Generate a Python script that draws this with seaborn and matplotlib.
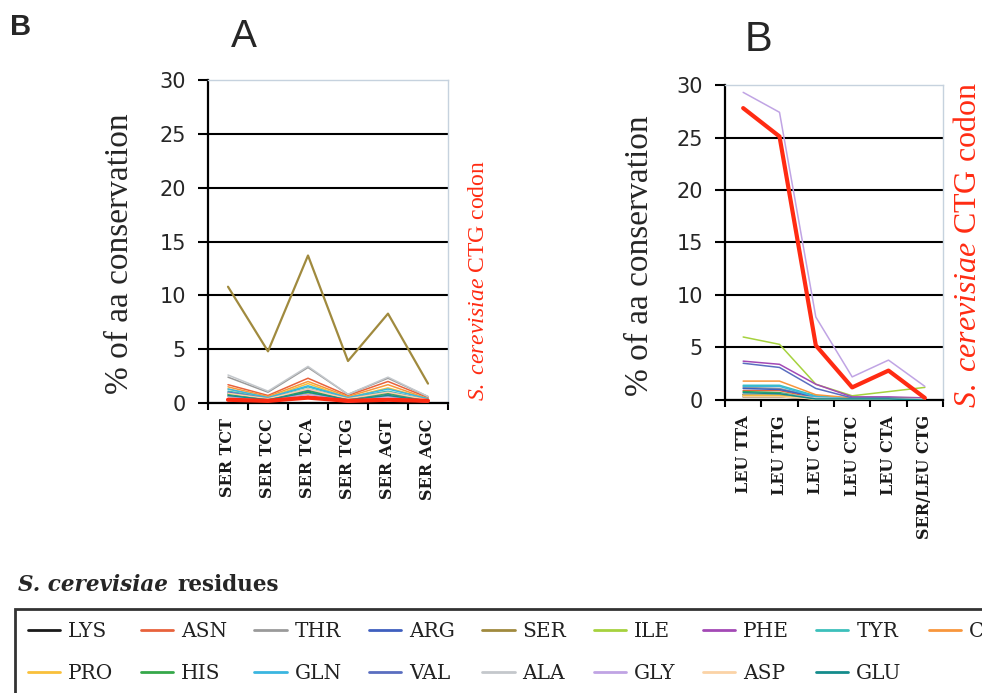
import numpy as np
import pandas as pd
import matplotlib.pyplot as plt
import seaborn as sns
from matplotlib.lines import Line2D

# Configuracion de estilo
sns.set_theme(style='white')
plt.rcParams['font.family'] = ['DejaVu Sans']
plt.rcParams['mathtext.fontset'] = 'custom'
plt.rcParams['mathtext.rm'] = 'Liberation Serif'
plt.rcParams['mathtext.it'] = 'Liberation Serif:italic'

# Categorias (codones)
codones_a = ['SER TCT', 'SER TCC', 'SER TCA', 'SER TCG', 'SER AGT', 'SER AGC']
codones_b = ['LEU TTA', 'LEU TTG', 'LEU CTT', 'LEU CTC', 'LEU CTA', 'SER/LEU CTG']

# Residuos en el orden de la leyenda
residuos = ['LYS', 'PRO', 'ASN', 'HIS', 'THR', 'GLN', 'ARG', 'VAL', 'SER', 'ALA',
            'ILE', 'GLY', 'PHE', 'ASP', 'TYR', 'GLU', 'CYS']

# Panel A: % de conservacion por codon SER
lys_a = [0.4, 0.2, 0.6, 0.2, 0.4, 0.1]
asn_a = [1.7, 0.7, 2.3, 0.7, 2.0, 0.5]
thr_a = [2.4, 1.0, 3.3, 0.8, 2.3, 0.6]
arg_a = [0.9, 0.4, 1.2, 0.3, 0.8, 0.2]
ser_a = [10.8, 4.8, 13.7, 3.9, 8.3, 1.8]
ile_a = [0.6, 0.3, 0.9, 0.3, 0.7, 0.2]
phe_a = [0.3, 0.2, 0.5, 0.1, 0.3, 0.1]
tyr_a = [1.1, 0.5, 1.5, 0.5, 1.1, 0.3]
cys_a = [1.5, 0.6, 2.0, 0.6, 1.7, 0.4]
pro_a = [1.3, 0.5, 1.8, 0.5, 1.4, 0.4]
his_a = [0.8, 0.4, 1.1, 0.4, 0.9, 0.3]
gln_a = [1.3, 0.5, 1.6, 0.5, 1.3, 0.4]
val_a = [1.0, 0.4, 1.3, 0.4, 1.0, 0.3]
ala_a = [2.6, 1.1, 3.4, 0.8, 2.4, 0.6]
gly_a = [0.6, 0.3, 0.8, 0.3, 0.6, 0.2]
asp_a = [0.9, 0.4, 1.3, 0.4, 1.0, 0.3]
glu_a = [0.7, 0.3, 1.0, 0.3, 0.7, 0.2]
leu_a = [0.3, 0.2, 0.5, 0.2, 0.3, 0.2]

# Panel B: % de conservacion por codon LEU
lys_b = [0.3, 0.3, 0.1, 0.0, 0.0, 0.0]
asn_b = [0.9, 0.9, 0.2, 0.1, 0.1, 0.1]
thr_b = [1.2, 1.1, 0.3, 0.1, 0.1, 0.1]
arg_b = [1.1, 1.0, 0.3, 0.1, 0.1, 0.1]
ser_b = [0.5, 0.5, 0.1, 0.1, 0.1, 0.1]
ile_b = [6.0, 5.3, 1.5, 0.4, 0.8, 1.2]
phe_b = [3.7, 3.4, 1.5, 0.3, 0.3, 0.2]
tyr_b = [1.4, 1.4, 0.4, 0.1, 0.1, 0.1]
cys_b = [1.8, 1.8, 0.5, 0.2, 0.2, 0.1]
pro_b = [0.4, 0.4, 0.1, 0.0, 0.0, 0.0]
his_b = [0.8, 0.7, 0.1, 0.1, 0.1, 0.0]
gln_b = [1.3, 1.3, 0.3, 0.1, 0.1, 0.1]
val_b = [3.5, 3.1, 1.1, 0.2, 0.2, 0.1]
ala_b = [0.6, 0.6, 0.2, 0.1, 0.1, 0.1]
gly_b = [29.3, 27.4, 7.9, 2.2, 3.8, 1.3]
asp_b = [0.3, 0.3, 0.1, 0.0, 0.0, 0.0]
glu_b = [0.7, 0.6, 0.1, 0.1, 0.1, 0.0]
leu_b = [27.8, 25.1, 5.2, 1.2, 2.8, 0.2]

colores = {
    'LYS': '#1a1a1a', 'ASN': '#e8623c', 'THR': '#9a9a9a', 'ARG': '#3f5fbf',
    'SER': '#a08a3e', 'ILE': '#a6d23e', 'PHE': '#a349b5', 'TYR': '#3cc0bb',
    'CYS': '#f8963c', 'PRO': '#f9c03a', 'HIS': '#35a84a', 'GLN': '#3ab6e0',
    'VAL': '#5a6ec0', 'ALA': '#c4c8cc', 'GLY': '#c0a4e4', 'ASP': '#fbd3a6',
    'GLU': '#148c8c', 'LEU': '#ff2b12',
}
ROJO = '#ff2b12'

series_a = {'LYS': lys_a, 'ASN': asn_a, 'THR': thr_a, 'ARG': arg_a, 'SER': ser_a,
            'ILE': ile_a, 'PHE': phe_a, 'TYR': tyr_a, 'CYS': cys_a, 'PRO': pro_a,
            'HIS': his_a, 'GLN': gln_a, 'VAL': val_a, 'ALA': ala_a, 'GLY': gly_a,
            'ASP': asp_a, 'GLU': glu_a, 'LEU': leu_a}
series_b = {'LYS': lys_b, 'ASN': asn_b, 'THR': thr_b, 'ARG': arg_b, 'SER': ser_b,
            'ILE': ile_b, 'PHE': phe_b, 'TYR': tyr_b, 'CYS': cys_b, 'PRO': pro_b,
            'HIS': his_b, 'GLN': gln_b, 'VAL': val_b, 'ALA': ala_b, 'GLY': gly_b,
            'ASP': asp_b, 'GLU': glu_b, 'LEU': leu_b}

W, H = 982, 693
fig = plt.figure(figsize=(W / 100, H / 100), dpi=100)


def dibujar_panel(ax, codones, series):
    """Dibuja un panel de lineas con el estilo del original"""
    x = np.arange(len(codones))
    orden = [r for r in series if r != 'LEU'] + ['LEU']
    for res in orden:
        lw = 3.0 if res == 'LEU' else (1.6 if res == 'SER' else 1.1)
        df = pd.DataFrame({'x': x, 'y': series[res]})
        sns.lineplot(data=df, x='x', y='y', color=colores[res], lw=lw, ax=ax,
                     legend=False, zorder=5 if res == 'LEU' else 3)

    ax.set_xlim(-0.5, len(codones) - 0.5)
    ax.set_ylim(0, 30)
    ax.set_yticks(np.arange(0, 31, 5))
    ax.set_xticks(np.arange(-0.5, len(codones), 1))
    ax.set_xticklabels([])
    ax.set_xticks(x, minor=True)
    ax.set_xticklabels(codones, minor=True)
    ax.set_xlabel('')
    ax.set_ylabel('')

    ax.yaxis.grid(True, color='black', lw=1.5)
    ax.get_ygridlines()[-1].set_visible(False)
    ax.set_axisbelow(True)

    for lado in ['left', 'bottom']:
        ax.spines[lado].set_color('black')
        ax.spines[lado].set_linewidth(1.6)
    for lado in ['top', 'right']:
        ax.spines[lado].set_color('#c6d2de')
        ax.spines[lado].set_linewidth(1.0)

    ax.tick_params(axis='y', which='major', direction='out', length=7, width=1.5,
                   color='black', labelsize=15, pad=9, left=True)
    ax.tick_params(axis='x', which='major', direction='out', length=5, width=1.5,
                   color='black', bottom=True)
    ax.tick_params(axis='x', which='minor', length=0, pad=11, bottom=True)
    plt.setp(ax.get_xticklabels(minor=True), rotation=90, va='top',
             family='DejaVu Serif', weight='bold', fontsize=11.5, color='#1a1a1a')


ax_a = fig.add_axes([208 / W, 1 - 403 / H, 240 / W, 323 / H])
dibujar_panel(ax_a, codones_a, series_a)
ax_b = fig.add_axes([725 / W, 1 - 400 / H, 218 / W, 315 / H])
dibujar_panel(ax_b, codones_b, series_b)

# Titulos
fig.text(10 / W, 1 - 35 / H, 'B', ha='left', va='baseline', family='Liberation Sans',
         weight='bold', fontsize=21)
fig.text(244 / W, 1 - 47 / H, 'A', ha='center', va='baseline', family='Liberation Sans',
         fontsize=28)
fig.text(758 / W, 1 - 51 / H, 'B', ha='center', va='baseline', family='Liberation Sans',
         fontsize=30)

# Etiquetas de eje
for xc, yc in [(120, 254), (640, 256)]:
    fig.text(xc / W, 1 - yc / H, '% of aa conservation', rotation=90, ha='center',
             va='center', family='Liberation Serif', fontsize=24)
etiqueta_roja = r'$\mathit{S.\ cerevisiae}$ CTG codon'
fig.text(478 / W, 1 - 281 / H, etiqueta_roja, rotation=90, ha='center', va='center',
         family='Liberation Serif', fontsize=17, color=ROJO)
fig.text(969 / W, 1 - 245 / H, etiqueta_roja, rotation=90, ha='center', va='center',
         family='Liberation Serif', fontsize=23, color=ROJO)

# Leyenda
handles = [Line2D([0], [0], color=colores[r], lw=2) for r in residuos]
leg = fig.legend(handles, residuos, loc='upper left', bbox_to_anchor=(15 / W, 1 - 609 / H),
                 ncol=9, frameon=True, fancybox=False, edgecolor='black',
                 prop={'family': 'DejaVu Serif', 'size': 14.5}, handlelength=1.6,
                 handletextpad=0.4, columnspacing=1.35, labelspacing=1.15,
                 borderpad=0.65, borderaxespad=0)
leg.get_frame().set_linewidth(2)
for txt in leg.get_texts():
    txt.set_color('#222222')

t1 = fig.text(18 / W, 1 - 591 / H, 'S. cerevisiae', ha='left', va='baseline',
              family='DejaVu Serif', style='italic', weight='bold', fontsize=15.5)
fig.canvas.draw()
bb = t1.get_window_extent()
fig.text((bb.x1 + 9) / W, 1 - 591 / H, 'residues', ha='left', va='baseline',
         family='DejaVu Serif', weight='bold', fontsize=15.5)

plt.savefig('out.png', dpi=100)
